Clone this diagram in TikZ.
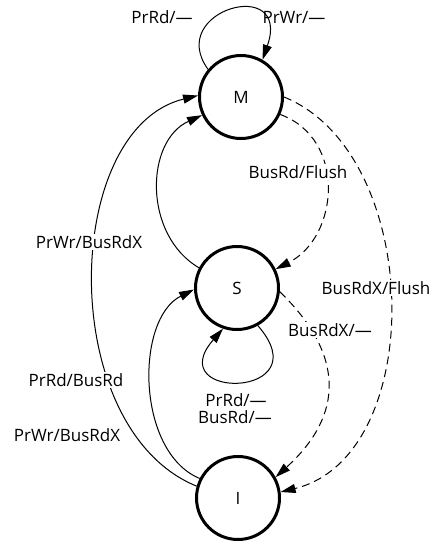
\documentclass[tikz,border=0pt]{standalone}
\usepackage{fontspec}
\setmainfont{Open Sans}
\usetikzlibrary{arrows.meta}
\tikzset{
  state/.style={circle, draw, line width=3pt, minimum size=83pt, inner sep=0pt, font=\fontsize{17}{19}\selectfont},
  conn/.style={line width=1pt, -{Triangle[length=15pt,width=9pt]}},
  dconn/.style={conn, dash pattern=on 8pt off 5pt},
  lbl/.style={font=\fontsize{17}{19}\selectfont, inner sep=1pt},
  lblw/.style={lbl, fill=white}
}
\begin{document}
\begin{tikzpicture}[x=1pt,y=-1pt]
\useasboundingbox (0,0) rectangle (434,544);
\node[state] (M) at (241,97) {M};
\node[state] (S) at (237,288) {S};
\node[state] (I) at (238,498) {I};
% self loops
\draw[conn] (M.140) .. controls (165,10) and (292,-25) .. (M.60);
\draw[conn] (S.-61) .. controls (322,399) and (160,401) .. (S.-109);
% left side arcs
\draw[conn] (I.164) .. controls (56,429) and (61,129) .. (M.178);
\draw[conn] (S.152) .. controls (143,235) and (145,141) .. (M.205);
\draw[conn] (I.153) .. controls (136,452) and (135,319) .. (S.182);
% right side dashed arcs
\draw[dconn] (M.-24) .. controls (347,139) and (339,237) .. (S.26);
\draw[dconn] (M.0) .. controls (424,154) and (428,456) .. (I.8);
\draw[dconn] (S.-5) .. controls (345,355) and (344,415) .. (I.29);
% labels
\node[lbl] (l1) at (162,17) {PrRd/—};
\node[lbl] (l2) at (294,17) {PrWr/—};
\node[lblw] (l3) at (298,172) {BusRd/Flush};
\node[lblw] (l4) at (89,242) {PrWr/BusRdX};
\node[lblw] (l5) at (376,288) {BusRdX/Flush};
\node[lblw] (l6) at (330,330) {BusRdX/—};
\node[lbl] (l7) at (236,400) {PrRd/—};
\node[lbl] (l8) at (235,417) {BusRd/—};
\node[lblw] (l9) at (76,380) {PrRd/BusRd};
\node[lbl] (l10) at (67,435) {PrWr/BusRdX};
\end{tikzpicture}
\end{document}
